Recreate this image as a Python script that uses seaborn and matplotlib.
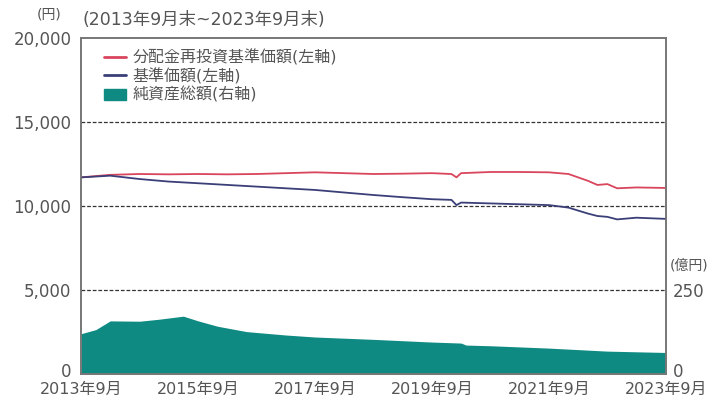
import pandas as pd
import seaborn as sns
import matplotlib.pyplot as plt
from matplotlib.patches import Patch
from matplotlib.lines import Line2D
from matplotlib.transforms import ScaledTranslation

# 分配金再投資基準価額 / 基準価額 (左軸, 円)
line_dates = ["2013-09", "2014-03", "2014-09", "2015-03", "2015-09", "2016-03",
              "2016-09", "2017-03", "2017-09", "2018-03", "2018-09", "2019-03",
              "2019-09", "2020-01", "2020-02", "2020-03", "2020-09", "2021-03",
              "2021-09", "2022-01", "2022-05", "2022-07", "2022-09", "2022-11",
              "2023-03", "2023-09"]
reinvest_nav = [11700, 11850, 11900, 11880, 11900, 11880, 11900, 11950, 12000,
                11950, 11900, 11920, 11950, 11900, 11700, 11950, 12020, 12020,
                12000, 11900, 11500, 11250, 11300, 11050, 11100, 11070]
nav = [11700, 11800, 11600, 11450, 11350, 11250, 11150, 11050, 10950, 10800,
       10650, 10520, 10400, 10360, 10050, 10200, 10150, 10100, 10050, 9900,
       9550, 9400, 9350, 9200, 9300, 9230]

# 純資産総額 (右軸, 億円)
asset_dates = ["2013-09", "2013-12", "2014-03", "2014-09", "2015-01", "2015-06",
               "2015-09", "2016-01", "2016-07", "2017-03", "2017-09", "2018-09",
               "2019-09", "2020-03", "2020-04", "2020-09", "2021-09", "2022-09",
               "2023-09"]
net_assets = [120, 132, 158, 157, 163, 172, 158, 142, 126, 116, 110, 103,
              95, 92, 86, 84, 77, 68, 64]

xtick_labels = ["2013年9月", "2015年9月", "2017年9月", "2019年9月", "2021年9月", "2023年9月"]

df_line = pd.DataFrame({"date": pd.to_datetime(line_dates),
                        "reinvest": reinvest_nav, "nav": nav})
df_area = pd.DataFrame({"date": pd.to_datetime(asset_dates), "assets": net_assets})

sns.set_style("white")
plt.rcParams["font.family"] = ["DejaVu Sans", "Noto Sans CJK JP"]

grey = "#555555"
red = "#d9455c"
navy = "#3b3f78"
teal = "#0f8a83"

fig = plt.figure(figsize=(7.19, 4.03), dpi=100)
ax = fig.add_axes([0.113, 0.072, 0.813, 0.834])
ax2 = ax.twinx()

# area on the right axis, behind the lines
ax2.fill_between(df_area.date, 0, df_area.assets, color=teal, lw=0)
ax2.set_ylim(0, 1000)
ax2.set_yticks([0, 250])
ax2.set_yticklabels(["0", "250"], color=grey, fontsize=12)
ax2.tick_params(axis="y", length=0, pad=5)

ax.set_zorder(ax2.get_zorder() + 1)
ax.patch.set_visible(False)

sns.lineplot(data=df_line, x="date", y="reinvest", ax=ax, color=red, lw=1.3)
sns.lineplot(data=df_line, x="date", y="nav", ax=ax, color=navy, lw=1.3)

ax.set_ylim(0, 20000)
ax.set_xlim(pd.Timestamp("2013-09-01"), pd.Timestamp("2023-09-01"))
ax.set_yticks([0, 5000, 10000, 15000, 20000])
ax.set_yticklabels(["0", "5,000", "10,000", "15,000", "20,000"], color=grey, fontsize=12)
ticks = pd.to_datetime(["2013-09-01", "2015-09-01", "2017-09-01",
                        "2019-09-01", "2021-09-01", "2023-09-01"])
ax.set_xticks(ticks)
ax.set_xticklabels(xtick_labels, color=grey, fontsize=11.5)
ax.tick_params(axis="x", direction="in", length=3, color="#333333", pad=6)
ax.tick_params(axis="y", length=0, pad=7)
ax.set_xlabel("")
ax.set_ylabel("")

# lift the "0" labels a few pixels so they sit above the date labels
shift = ScaledTranslation(0, 4 / 100, fig.dpi_scale_trans)
for lab in [ax.get_yticklabels()[0], ax2.get_yticklabels()[0]]:
    lab.set_transform(lab.get_transform() + shift)

for yv in [5000, 10000, 15000]:
    ax.axhline(yv, color="#333333", lw=0.9, ls=(0, (3, 1.5)), zorder=0.5)

for a in (ax, ax2):
    for s in a.spines.values():
        s.set_color("#777777")
        s.set_linewidth(1.2)

handles = [Line2D([0], [0], color=red, lw=2),
           Line2D([0], [0], color=navy, lw=2),
           Patch(color=teal)]
labels = ["分配金再投資基準価額(左軸)", "基準価額(左軸)", "純資産総額(右軸)"]
ax.legend(handles, labels, loc="upper left", frameon=False, fontsize=11.5,
          handlelength=1.4, handletextpad=0.4, labelspacing=0.15,
          borderaxespad=0.3, bbox_to_anchor=(0.02, 1.0), labelcolor=grey)

fig.text(0.068, 0.965, "(円)", color=grey, fontsize=10, ha="center", va="center")
fig.text(0.115, 0.95, "(2013年9月末~2023年9月末)", color=grey, fontsize=12.5, va="center")
fig.text(0.932, 0.342, "(億円)", color=grey, fontsize=10, va="center")

fig.savefig("out.png", dpi=100)
